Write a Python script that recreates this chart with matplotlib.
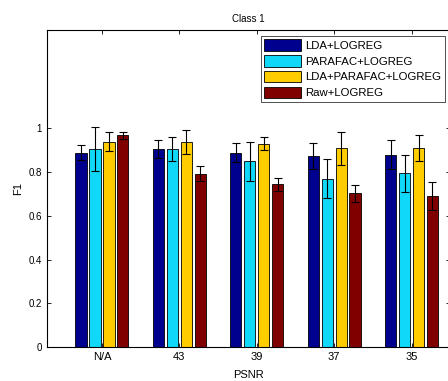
import matplotlib
matplotlib.use('Agg')
import matplotlib.pyplot as plt
import numpy as np

plt.rcParams['font.family'] = 'Liberation Sans'
plt.rcParams['font.size'] = 7

# PSNR groups and F1 scores per method
psnr = ['N/A', '43', '39', '37', '35']
methods = ['LDA+LOGREG', 'PARAFAC+LOGREG', 'LDA+PARAFAC+LOGREG', 'Raw+LOGREG']
colors = ['#00008f', '#10d8f8', '#ffcc00', '#800000']

lda = [0.89, 0.905, 0.89, 0.873, 0.88]
parafac = [0.905, 0.905, 0.85, 0.77, 0.795]
lda_parafac = [0.94, 0.94, 0.93, 0.91, 0.91]
raw = [0.968, 0.794, 0.744, 0.703, 0.69]

lda_err = [0.035, 0.04, 0.045, 0.06, 0.065]
parafac_err = [0.10, 0.055, 0.09, 0.09, 0.085]
lda_parafac_err = [0.045, 0.055, 0.03, 0.075, 0.06]
raw_err = [0.015, 0.035, 0.03, 0.04, 0.065]

values = [lda, parafac, lda_parafac, raw]
errors = [lda_err, parafac_err, lda_parafac_err, raw_err]

fig = plt.figure(figsize=(4.48, 3.81), dpi=100)
ax = fig.add_axes([0.105, 0.089, 0.9, 0.832])

x = np.arange(1, len(psnr) + 1)
step = 0.18
width = 0.145
for i in range(4):
    ax.bar(x + (i - 1.5) * step, values[i], width, color=colors[i],
           edgecolor='black', linewidth=0.6, label=methods[i],
           yerr=errors[i], capsize=3,
           error_kw=dict(elinewidth=0.8, capthick=0.8, ecolor='black'))

ax.set_xlim(0.29, 5.5)
ax.set_ylim(0, 1.45)
ax.set_xticks(x)
ax.set_xticklabels(psnr, fontsize=8)
ax.set_yticks([0, 0.2, 0.4, 0.6, 0.8, 1])
ax.set_yticklabels(['0', '0.2', '0.4', '0.6', '0.8', '1'])
ax.tick_params(direction='in', top=True, right=True, length=3, width=0.6)
for s in ax.spines.values():
    s.set_linewidth(0.8)

ax.set_xlabel('PSNR', fontsize=8, labelpad=6)
ax.set_ylabel('F1', fontsize=8)
ax.set_title('Class 1', fontsize=7, pad=6)

leg = ax.legend(loc='upper right', fontsize=8.2, frameon=True, fancybox=False,
                edgecolor='black', borderaxespad=0.5, handlelength=3.2,
                handleheight=1.2, labelspacing=0.36, borderpad=0.3,
                handletextpad=0.4)
leg.get_frame().set_linewidth(0.6)

fig.savefig('out.png', dpi=100)
